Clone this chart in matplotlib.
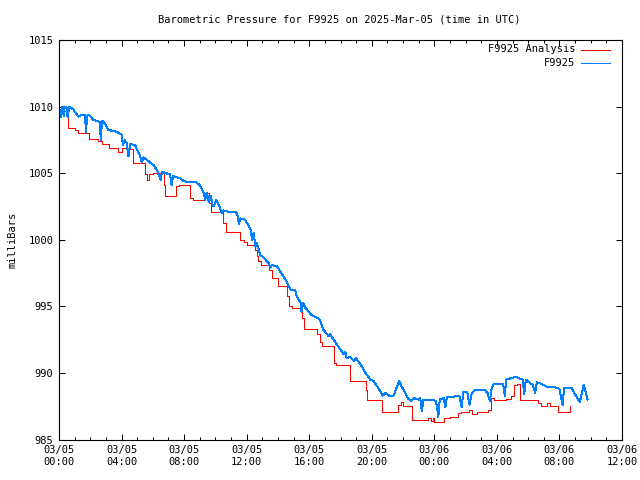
import matplotlib
matplotlib.use("Agg")
import matplotlib.pyplot as plt
from matplotlib.ticker import MultipleLocator
from matplotlib.lines import Line2D

# ---- data (hours since 2025-03-05 00:00 UTC, millibars) ----
analysis_hours = [0.0, 0.6, 1.0, 1.2, 1.9, 2.5, 2.75, 3.2, 3.8, 4.0, 4.4, 4.7, 5.5, 5.6, 5.75,
                  6.0, 6.7, 6.8, 7.5, 7.7, 8.4, 8.55, 9.25, 9.6, 9.7, 10.5, 10.65, 11.6, 11.8,
                  12.0, 12.55, 12.65, 12.75, 12.9, 13.4, 13.6, 14.0, 14.6, 14.7, 14.9, 15.55,
                  15.65, 16.5, 16.7, 16.8, 17.6, 17.7, 18.6, 19.65, 19.7, 20.65, 21.7, 21.85,
                  22.0, 22.6, 23.6, 23.8, 23.9, 24.0, 24.6, 25.0, 25.5, 25.7, 26.2, 26.4,
                  26.75, 27.4, 27.6, 27.8, 28.6, 28.9, 29.1, 29.3, 29.45, 30.6, 30.8, 31.2,
                  31.4, 31.9, 32.65, 32.7]
analysis_mb = [1009.7, 1008.4, 1008.25, 1008.0, 1007.6, 1007.4, 1007.2, 1006.9, 1006.6, 1006.9,
               1006.8, 1005.75, 1004.9, 1004.5, 1004.9, 1005.05, 1004.1, 1003.3, 1004.0, 1004.1,
               1003.1, 1003.0, 1003.5, 1002.75, 1002.1, 1001.25, 1000.6, 1000.0, 999.8, 999.6,
               999.25, 998.75, 998.4, 998.1, 997.75, 997.1, 996.5, 995.75, 995.0, 994.9, 994.1,
               993.3, 992.9, 992.3, 992.0, 990.75, 990.6, 989.4, 988.75, 988.0, 987.1, 987.6,
               987.8, 987.5, 986.5, 986.6, 986.4, 986.6, 986.3, 986.6, 986.7, 987.0, 987.1,
               987.25, 986.95, 987.1, 987.25, 988.1, 988.0, 988.05, 988.3, 989.1, 989.2, 988.0,
               987.75, 987.55, 987.75, 987.55, 987.1, 987.55, 987.55]

station_hours = [0.0, 0.1, 0.2, 0.3, 0.35, 0.5, 0.55, 0.65, 0.9, 1.24, 1.5, 1.67, 1.72, 1.8, 1.9,
                 2.2, 2.5, 2.62, 2.67, 2.75, 2.84, 3.16, 3.7, 4.0, 4.1, 4.2, 4.33, 4.44, 4.55,
                 4.87, 5.2, 5.3, 5.4, 5.5, 6.05, 6.26, 6.5, 6.58, 7.1, 7.2, 7.3, 7.5, 7.75, 8.0,
                 8.3, 8.8, 9.0, 9.25, 9.35, 9.45, 9.6, 9.7, 9.8, 9.9, 10.05, 10.3, 10.4, 10.5,
                 10.85, 11.3, 11.4, 11.5, 11.6, 11.9, 12.1, 12.25, 12.35, 12.45, 12.55, 12.65,
                 12.9, 13.0, 13.2, 13.4, 13.5, 13.6, 13.95, 14.2, 14.5, 14.65, 14.8, 15.1, 15.2,
                 15.45, 15.5, 15.6, 15.75, 16.1, 16.3, 16.6, 16.7, 16.9, 17.25, 17.35, 17.5,
                 17.7, 18.0, 18.2, 18.3, 18.4, 18.6, 18.85, 19.0, 19.3, 19.6, 19.9, 20.1, 20.35,
                 20.7, 20.9, 21.1, 21.4, 21.75, 21.9, 22.1, 22.3, 22.5, 22.7, 23.0, 23.1, 23.2,
                 23.3, 23.75, 24.1, 24.2, 24.25, 24.35, 24.6, 24.7, 24.8, 25.6, 25.75, 25.85,
                 26.1, 26.25, 26.4, 26.65, 27.2, 27.4, 27.5, 27.55, 27.65, 27.8, 28.35, 28.45,
                 28.5, 28.6, 28.9, 29.2, 29.65, 29.75, 29.85, 30.05, 30.3, 30.45, 30.55, 30.8,
                 31.25, 31.8, 32.0, 32.2, 32.3, 32.75, 32.9, 33.3, 33.55, 33.8]
station_mb = [1010.1, 1009.2, 1010.0, 1009.3, 1010.0, 1009.9, 1009.2, 1010.0, 1009.8, 1009.25,
              1009.4, 1009.4, 1008.1, 1009.3, 1009.4, 1009.0, 1008.9, 1008.8, 1007.5, 1008.9,
              1008.9, 1008.25, 1008.1, 1007.9, 1007.1, 1007.5, 1007.25, 1006.25, 1007.2, 1007.1,
              1006.25, 1005.8, 1006.2, 1006.1, 1005.6, 1005.25, 1004.5, 1005.1, 1004.9, 1004.1,
              1004.8, 1004.7, 1004.6, 1004.4, 1004.3, 1004.3, 1004.1, 1003.5, 1003.0, 1003.5,
              1002.8, 1003.3, 1002.7, 1002.5, 1003.0, 1002.4, 1002.0, 1002.2, 1002.1, 1002.1,
              1001.9, 1001.2, 1001.6, 1001.5, 1001.1, 1000.75, 1000.0, 1000.5, 999.5, 999.75,
              998.75, 998.75, 998.5, 998.25, 997.9, 998.1, 998.0, 997.5, 997.0, 996.6, 996.25,
              996.25, 995.75, 995.25, 994.6, 995.25, 994.9, 994.4, 994.25, 994.1, 993.9,
              993.25, 992.75, 992.9, 992.6, 992.25, 991.75, 991.4, 991.6, 991.1, 991.2, 990.9,
              991.1, 990.6, 990.0, 989.5, 989.4, 989.0, 988.3, 988.5, 988.3, 988.3, 989.4,
              989.0, 988.6, 988.1, 987.9, 988.1, 988.0, 988.1, 987.1, 988.0, 988.0, 987.9,
              987.2, 986.7, 988.0, 988.1, 987.4, 988.2, 988.25, 987.45, 988.6, 988.6, 987.6,
              988.5, 988.75, 988.75, 988.5, 988.1, 987.9, 988.75, 989.2, 989.2, 988.9, 988.25,
              989.5, 989.6, 989.7, 989.5, 988.4, 989.5, 989.3, 989.1, 988.5, 989.3, 989.2,
              988.95, 988.9, 988.8, 987.6, 988.9, 988.9, 988.6, 987.8, 989.1, 988.0]

x_tick_hours = [0, 4, 8, 12, 16, 20, 24, 28, 32, 36]
x_tick_labels = ["03/05\n00:00", "03/05\n04:00", "03/05\n08:00", "03/05\n12:00", "03/05\n16:00",
                 "03/05\n20:00", "03/06\n00:00", "03/06\n04:00", "03/06\n08:00", "03/06\n12:00"]
y_ticks = [985, 990, 995, 1000, 1005, 1010, 1015]

series_names = ["F9925 Analysis", "F9925"]
series_colors = ["#ff0000", "#0080ff"]

FONT = "DejaVu Sans Mono"
FS = 7.5
LW = 0.72

fig = plt.figure(figsize=(6.4, 4.8), dpi=100)
ax = fig.add_axes([59 / 640, 1 - 439.5 / 480, (622 - 59) / 640, (439.5 - 40) / 480])

ax.plot(analysis_hours, analysis_mb, color=series_colors[0], lw=LW, drawstyle="steps-post",
        antialiased=False)
ax.plot(station_hours, station_mb, color=series_colors[1], lw=LW, antialiased=False)

ax.set_xlim(0, 36)
ax.set_ylim(985, 1015)
ax.set_xticks(x_tick_hours)
ax.set_xticklabels(x_tick_labels, fontfamily=FONT, fontsize=FS)
ax.xaxis.set_minor_locator(MultipleLocator(1))
ax.set_yticks(y_ticks)
ax.set_yticklabels([str(v) for v in y_ticks], fontfamily=FONT, fontsize=FS)
ax.tick_params(which="both", direction="in", top=True, right=True, width=0.75, color="black")
ax.tick_params(which="major", length=4.5, pad=4)
ax.tick_params(which="minor", length=2.5)
for s in ax.spines.values():
    s.set_linewidth(0.8)

ax.set_ylabel("milliBars", fontfamily=FONT, fontsize=FS, labelpad=8)
fig.text(339 / 640, 1 - 19 / 480, "Barometric Pressure for F9925 on 2025-Mar-05 (time in UTC)",
         ha="center", va="center", fontfamily=FONT, fontsize=FS)

# legend (gnuplot style: right-aligned text, sample line on the right)
for i, (name, col) in enumerate(zip(series_names, series_colors)):
    ypix = 49.5 + i * 13.5
    yf = 1 - ypix / 480
    fig.text(575 / 640, yf, name, ha="right", va="center", fontfamily=FONT, fontsize=FS)
    fig.add_artist(Line2D([581 / 640, 610 / 640], [yf, yf], color=col, lw=LW,
                          transform=fig.transFigure, antialiased=False))

fig.savefig("out.png", dpi=100)
